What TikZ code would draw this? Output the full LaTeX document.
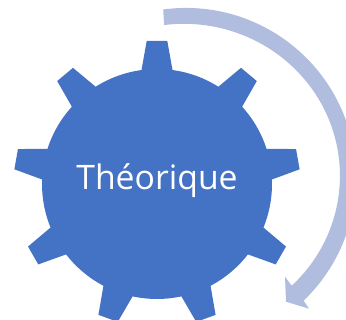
\documentclass[tikz,border=0pt]{standalone}
\usepackage{fontspec}
\setmainfont{Open Sans}
\usetikzlibrary{positioning}

\definecolor{gearblue}{HTML}{4472C4}
\definecolor{arrowblue}{HTML}{B0BDDE}

\begin{document}
\begin{tikzpicture}
  [
  x = .03cm, y = .03cm,
  % gear
  gear/.style = {fill=gearblue},
  % arrow
  fleche/.style = {fill=arrowblue},
  % text
  titre/.style = {text=white, anchor=base, inner sep=0pt,
    font=\fontsize{28.8}{34}\selectfont},
  ]

  % picture size, reference margins
  \useasboundingbox (0,0) rectangle (346,320);
  \clip (0,0) rectangle (346,320);

  % curved arrow round the gear
  \fill [fleche] (163.2,310.5) arc [start angle=97.7, end angle=-46.2, radius=170]
  -- (309,11.3) -- (286,18.3) -- (285,43.3) -- (291.7,34.3)
  arc [start angle=-46.3, end angle=97.3, x radius=156, y radius=152] -- cycle;

  % gear body
  \coordinate (center) at (157,136);
  \fill [gear] (center) circle (115);
  % nine teeth
  \foreach \ang in {0,40,...,320}
  \fill [gear, shift={(center)}, rotate=\ang]
  (-15.5,110) -- (-15.5,114) -- (-10.3,143) -- (10.3,143) -- (15.5,114) -- (15.5,110) -- cycle;

  % label
  \node [titre] (theorique) at (157,130) {Théorique};

\end{tikzpicture}
\end{document}
